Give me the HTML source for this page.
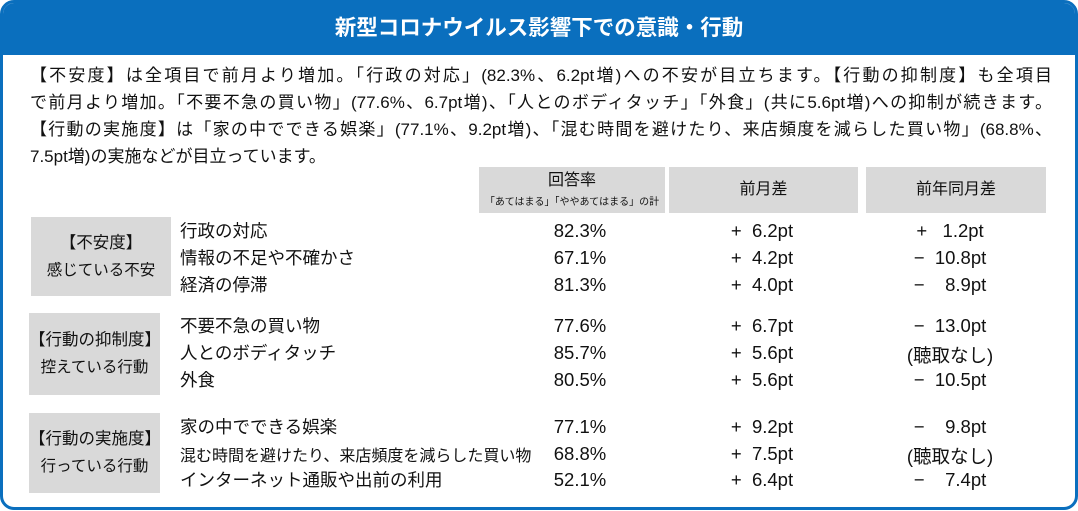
<!DOCTYPE html>
<html><head><meta charset="utf-8"><style>
*{margin:0;padding:0;box-sizing:border-box}
body{width:1078px;height:511px;background:#fff;font-family:"Liberation Sans","Noto Sans CJK JP",sans-serif;color:#111;position:relative;overflow:hidden}
.frame{position:absolute;left:0;top:0;width:1078px;height:510px;border:3px solid #0a6fbe;border-radius:14px;overflow:hidden}
.hd{position:absolute;left:0;top:0;width:100%;height:52px;background:#0a6fbe;color:#fff;font-weight:bold;font-size:21.5px;text-align:center;line-height:50px}
.l{position:absolute;left:30px;width:1022px;font-size:17px;line-height:27px;white-space:nowrap;text-align:justify;text-align-last:justify}
.a{position:absolute;white-space:nowrap}
.box{position:absolute;background:#d9d9d9;text-align:center;font-size:16.5px;line-height:27px;display:flex;flex-direction:column;justify-content:center}
.th{position:absolute;background:#d9d9d9;text-align:center;font-size:16px}
.r{font-size:17.5px}
.v{font-size:18.5px;text-align:center;width:200px;margin-top:2px}
</style></head><body>
<div class="frame">
<div class="hd">新型コロナウイルス影響下での意識・行動</div>
</div>
<div class="l" style="top:62px">【不安度】は全項目で前月より増加。「行政の対応」(82.3%、6.2pt増)への不安が目立ちます。【行動の抑制度】も全項目</div>
<div class="l" style="top:89px">で前月より増加。「不要不急の買い物」(77.6%、6.7pt増)、「人とのボディタッチ」「外食」(共に5.6pt増)への抑制が続きます。</div>
<div class="l" style="top:116px">【行動の実施度】は「家の中でできる娯楽」(77.1%、9.2pt増)、「混む時間を避けたり、来店頻度を減らした買い物」(68.8%、</div>
<div class="l" style="top:143px;width:auto;text-align:left;text-align-last:left">7.5pt増)の実施などが目立っています。</div>

<div class="th" style="left:479px;top:167px;width:186px;height:46px;line-height:20px;padding-top:4px">回答率<br><span style="font-size:10px">「あてはまる」「ややあてはまる」の計</span></div>
<div class="th" style="left:669px;top:167px;width:189px;height:46px;line-height:46px">前月差</div>
<div class="th" style="left:866px;top:167px;width:180px;height:46px;line-height:46px">前年同月差</div>

<div class="box" style="left:31px;top:217px;width:140px;height:79px"><div>【不安度】</div><div style="font-size:15.5px">感じている不安</div></div>
<div class="box" style="left:29px;top:313px;width:131px;height:82px"><div>【行動の抑制度】</div><div style="font-size:15.5px">控えている行動</div></div>
<div class="box" style="left:29px;top:413px;width:131px;height:80px"><div>【行動の実施度】</div><div style="font-size:15.5px">行っている行動</div></div>

<div class="a r" style="left:180px;top:218px">行政の対応</div>
<div class="a r" style="left:180px;top:245px">情報の不足や不確かさ</div>
<div class="a r" style="left:180px;top:272px">経済の停滞</div>
<div class="a r" style="left:180px;top:313px">不要不急の買い物</div>
<div class="a r" style="left:180px;top:340px">人とのボディタッチ</div>
<div class="a r" style="left:180px;top:367px">外食</div>
<div class="a r" style="left:180px;top:414px">家の中でできる娯楽</div>
<div class="a r" style="left:180px;top:442px;font-size:16px">混む時間を避けたり、来店頻度を減らした買い物</div>
<div class="a r" style="left:180px;top:467px">インターネット通販や出前の利用</div>

<div class="a v" style="left:480px;top:218px">82.3%</div>
<div class="a v" style="left:480px;top:245px">67.1%</div>
<div class="a v" style="left:480px;top:272px">81.3%</div>
<div class="a v" style="left:480px;top:313px">77.6%</div>
<div class="a v" style="left:480px;top:340px">85.7%</div>
<div class="a v" style="left:480px;top:367px">80.5%</div>
<div class="a v" style="left:480px;top:414px">77.1%</div>
<div class="a v" style="left:480px;top:441px">68.8%</div>
<div class="a v" style="left:480px;top:467px">52.1%</div>

<div class="a v" style="left:662px;top:218px">+&nbsp; 6.2pt</div>
<div class="a v" style="left:662px;top:245px">+&nbsp; 4.2pt</div>
<div class="a v" style="left:662px;top:272px">+&nbsp; 4.0pt</div>
<div class="a v" style="left:662px;top:313px">+&nbsp; 6.7pt</div>
<div class="a v" style="left:662px;top:340px">+&nbsp; 5.6pt</div>
<div class="a v" style="left:662px;top:367px">+&nbsp; 5.6pt</div>
<div class="a v" style="left:662px;top:414px">+&nbsp; 9.2pt</div>
<div class="a v" style="left:662px;top:441px">+&nbsp; 7.5pt</div>
<div class="a v" style="left:662px;top:467px">+&nbsp; 6.4pt</div>

<div class="a v" style="left:850px;top:218px">+&nbsp;&nbsp; 1.2pt</div>
<div class="a v" style="left:850px;top:245px">−&nbsp; 10.8pt</div>
<div class="a v" style="left:850px;top:272px">−&nbsp;&nbsp;&nbsp; 8.9pt</div>
<div class="a v" style="left:850px;top:313px">−&nbsp; 13.0pt</div>
<div class="a v" style="left:850px;top:340px">(聴取なし)</div>
<div class="a v" style="left:850px;top:367px">−&nbsp; 10.5pt</div>
<div class="a v" style="left:850px;top:414px">−&nbsp;&nbsp;&nbsp; 9.8pt</div>
<div class="a v" style="left:850px;top:441px">(聴取なし)</div>
<div class="a v" style="left:850px;top:467px">−&nbsp;&nbsp;&nbsp; 7.4pt</div>
</body></html>
